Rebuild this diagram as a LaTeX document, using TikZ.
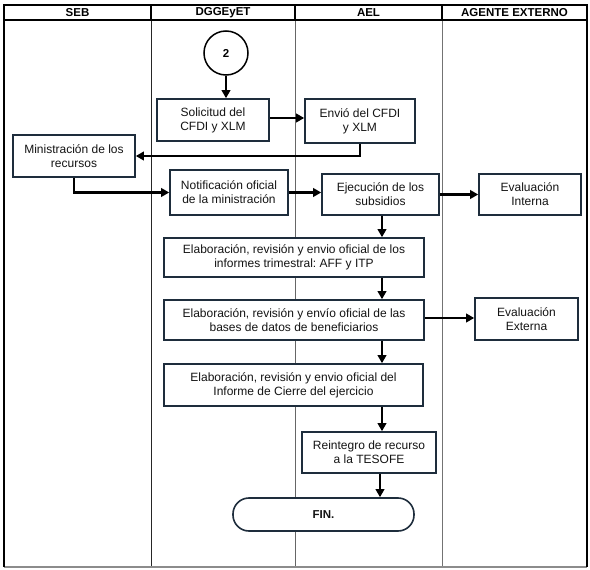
\documentclass[tikz,border=0pt]{standalone}
\usepackage{fontspec}
\setmainfont{Liberation Sans}
\usetikzlibrary{arrows.meta,calc}
\definecolor{boxline}{RGB}{30,45,60}
\definecolor{txt}{RGB}{20,20,20}
\tikzset{
  procbox/.style={draw=boxline,line width=1.6pt,fill=white,text=txt,align=center,inner sep=1pt,
    font=\fontsize{12}{13.8}\selectfont},
  hdr/.style={font=\fontsize{11.5}{13}\selectfont\bfseries,text=black},
  flow/.style={line width=2.3pt,-{Triangle[length=8pt,width=8.5pt]}},
}
\frenchspacing
\begin{document}
\begin{tikzpicture}[x=1pt,y=-1pt]
\useasboundingbox (0,0) rectangle (590,570);
% frame
\draw[line width=1pt,black!85] (151,20) -- (151,567);
\draw[line width=1pt,black!60] (295,20) -- (295,567);
\draw[line width=1pt,black!55] (442,20) -- (442,567);
\draw[line width=1.6pt,black!45] (4,567) -- (587,567);
\draw[line width=1.6pt] (4,567) -- (4,5) -- (587,5) -- (587,567);
\draw[line width=1.6pt] (4,20) -- (587,20);
\draw[line width=1.6pt] (151,5) -- (151,20) (295,5) -- (295,20) (442,5) -- (442,20);
\node[hdr] (h1) at (77.5,12.5) {SEB};
\node[hdr] (h2) at (223,12.5) {DGGEyET};
\node[hdr] (h3) at (368.5,12.5) {AEL};
\node[hdr] (h4) at (514.5,12.5) {AGENTE EXTERNO};
% nodes
\node[draw=black,line width=1.5pt,circle,minimum size=44pt,inner sep=0pt,fill=white,
  font=\fontsize{11.5}{13}\selectfont\bfseries] (c2) at (226,53) {2};
\node[procbox,minimum width=112pt,minimum height=42pt] (sol) at (213,120) {Solicitud del\\CFDI y XLM};
\node[procbox,minimum width=110pt,minimum height=44pt] (env) at (360,121) {Envió del CFDI\\y XLM};
\node[procbox,minimum width=122pt,minimum height=42pt] (min) at (74,156) {Ministración de los\\recursos};
\node[procbox,minimum width=118pt,minimum height=45pt] (not) at (229,192.5) {Notificación oficial\\de la ministración};
\node[procbox,minimum width=117pt,minimum height=41pt] (eje) at (380.5,194.5) {Ejecución de los\\subsidios};
\node[procbox,minimum width=102pt,minimum height=41pt] (evi) at (530,194.5) {Evaluación\\Interna};
\node[procbox,minimum width=260pt,minimum height=39pt] (inf) at (294,257.5) {Elaboración, revisión y envio oficial de los\\informes trimestral: AFF y ITP};
\node[procbox,minimum width=260pt,minimum height=40pt] (bas) at (294,320) {Elaboración, revisión y envío oficial de las\\bases de datos de beneficiarios};
\node[procbox,minimum width=103pt,minimum height=42pt] (eve) at (526.5,319) {Evaluación\\Externa};
\node[procbox,minimum width=259pt,minimum height=42pt] (cie) at (293.5,385) {Elaboración, revisión y envio oficial del\\Informe de Cierre del ejercicio};
\node[procbox,minimum width=134pt,minimum height=41pt] (rei) at (369,452.5) {Reintegro de recurso\\a la TESOFE};
\node[procbox,rounded corners=16pt,minimum width=181pt,minimum height=33pt,
  font=\fontsize{11.5}{13}\selectfont\bfseries] (fin) at (323.5,514.5) {FIN.};
% helper coordinates
\coordinate (vx) at (382,0);
\coordinate (vy) at (380,0);
% connectors
\draw[flow] (c2.south) -- (c2.south |- sol.north);
\draw[flow] ($(sol.east)+(0,-2)$) -- ($(sol.east -| env.west)+(0,-2)$);
\draw[flow] (env.south) |- (min.east);
\draw[flow] (min.south) |- (not.west);
\draw[flow] (not.east) -- (not.east -| eje.west);
\draw[flow] (eje.east) -- (evi.west);
\draw[flow] (vx |- eje.south) -- (vx |- inf.north);
\draw[flow] (vx |- inf.south) -- (vx |- bas.north);
\draw[flow] ($(bas.east)+(0,-2)$) -- ($(bas.east -| eve.west)+(0,-2)$);
\draw[flow] (vx |- bas.south) -- (vx |- cie.north);
\draw[flow] (vx |- cie.south) -- (vx |- rei.north);
\draw[flow] (vy |- rei.south) -- (vy |- fin.north);
\end{tikzpicture}
\end{document}
